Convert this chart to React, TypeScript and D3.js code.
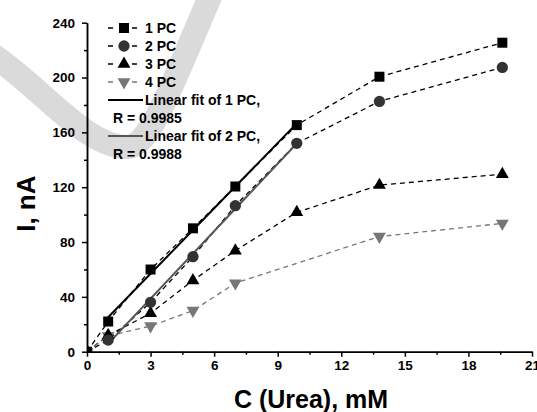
import { useEffect, useRef } from "react";
import * as d3 from "d3";

// concentracion de urea (mM)
const conc = [0, 1, 3, 5, 7, 9.9, 13.8, 19.6];
const pc1 = [0, 22, 60, 90, 120.5, 165.3, 200.6, 225.4];
const pc2 = [0, 8.5, 36, 69.3, 106.5, 152, 182.6, 207.4];
const pc3 = [0, 12, 28, 52, 73.7, 101.7, 121.5, 129.5];
const pc4 = [0, 11.5, 18.7, 30, 50, 0, 84, 93.6];
// 4 PC no tiene punto en 9.9
const pc4Mask = [true, true, true, true, true, false, true, true];

const xTicks = [0, 3, 6, 9, 12, 15, 18, 21];
const yTicks = [0, 40, 80, 120, 160, 200, 240];

const seriesNames = ["1 PC", "2 PC", "3 PC", "4 PC"];
const fitLabels = [
  ["Linear fit of 1 PC,", "R = 0.9985"],
  ["Linear fit of 2 PC,", "R = 0.9988"],
];

const W = 537;
const H = 412;
const FONT = "'Liberation Sans', Arial, sans-serif";

const App = () => {
  const ref = useRef<SVGSVGElement | null>(null);

  useEffect(() => {
    if (!ref.current) return;
    const svg = d3.select(ref.current);
    svg.selectAll("*").remove();

    const x = d3.scaleLinear().domain([0, 21]).range([87, 532]);
    const y = d3.scaleLinear().domain([0, 240]).range([351.7, 22.7]);

    // marca de agua gris del fondo
    svg
      .append("path")
      .attr("d", "M -12,52 C 40,85 85,148 128,147 C 150,146 172,85 212,-8")
      .attr("fill", "none")
      .attr("stroke", "#dadada")
      .attr("stroke-width", 24)
      .attr("stroke-linecap", "butt");

    const series = [
      { vals: pc1, mask: conc.map(() => true), color: "#000", line: "#000", sym: "square" },
      { vals: pc2, mask: conc.map(() => true), color: "#333", line: "#000", sym: "circle" },
      { vals: pc3, mask: conc.map(() => true), color: "#000", line: "#000", sym: "up" },
      { vals: pc4, mask: pc4Mask, color: "#777", line: "#777", sym: "down" },
    ];

    svg
      .append("clipPath")
      .attr("id", "plotclip")
      .append("rect")
      .attr("x", 87)
      .attr("y", 0)
      .attr("width", 450)
      .attr("height", 351.7);

    const plot = svg.append("g").attr("clip-path", "url(#plotclip)");

    const symbolFor = (s: string) =>
      s === "square"
        ? d3.symbol(d3.symbolSquare, 100)
        : s === "circle"
        ? d3.symbol(d3.symbolCircle, 100)
        : d3.symbol(d3.symbolTriangle, 72);

    // lineas discontinuas
    series.forEach((s) => {
      const pts = conc.map((c, i) => [c, s.vals[i]]).filter((_, i) => s.mask[i]);
      plot
        .append("path")
        .attr("d", d3.line().x((d) => x(d[0])).y((d) => y(d[1]))(pts as [number, number][]))
        .attr("fill", "none")
        .attr("stroke", s.line)
        .attr("stroke-width", 1.3)
        .attr("stroke-dasharray", "5,4");
    });

    // ajustes lineales (regresion sobre x = 1..9.9)
    const fit = (vals: number[]) => {
      const pts = conc.map((c, i) => [c, vals[i]]).filter((d) => d[0] >= 1 && d[0] <= 10);
      const mx = d3.mean(pts, (d) => d[0])!;
      const my = d3.mean(pts, (d) => d[1])!;
      const sxy = d3.sum(pts, (d) => (d[0] - mx) * (d[1] - my));
      const sxx = d3.sum(pts, (d) => (d[0] - mx) ** 2);
      const b = sxy / sxx;
      const a = my - b * mx;
      const x0 = d3.min(pts, (d) => d[0])!;
      const x1 = d3.max(pts, (d) => d[0])!;
      return [
        [x0, a + b * x0],
        [x1, a + b * x1],
      ];
    };
    [
      { vals: pc1, color: "#000" },
      { vals: pc2, color: "#555" },
    ].forEach((f) => {
      const p = fit(f.vals);
      plot
        .append("line")
        .attr("x1", x(p[0][0]))
        .attr("y1", y(p[0][1]))
        .attr("x2", x(p[1][0]))
        .attr("y2", y(p[1][1]))
        .attr("stroke", f.color)
        .attr("stroke-width", 2);
    });

    // marcadores (orden inverso para que 1 PC quede encima)
    series
      .slice()
      .reverse()
      .forEach((s) => {
        conc.forEach((c, i) => {
          if (!s.mask[i]) return;
          plot
            .append("path")
            .attr("d", symbolFor(s.sym)()!)
            .attr(
              "transform",
              `translate(${x(c)},${y(s.vals[i])})${s.sym === "down" ? " rotate(180)" : ""}`
            )
            .attr("fill", s.color);
        });
      });

    // ejes
    const axisStyle = (g: any) => {
      g.selectAll("path, line").attr("stroke", "#000").attr("stroke-width", 1.5);
      g.selectAll("text")
        .attr("fill", "#000")
        .style("font-family", FONT)
        .style("font-size", "13.5px")
        .style("font-weight", "bold");
    };

    const xMinor = d3.range(1.5, 21, 3);
    const yMinor = d3.range(20, 240, 40);

    svg
      .append("g")
      .attr("transform", `translate(0,${y(0)})`)
      .call(d3.axisBottom(x).tickValues(xMinor).tickSize(3).tickFormat(() => "").tickSizeOuter(0))
      .call(axisStyle);
    svg
      .append("g")
      .attr("transform", `translate(0,${y(0)})`)
      .call(
        d3
          .axisBottom(x)
          .tickValues(xTicks)
          .tickSize(5)
          .tickSizeOuter(0)
          .tickPadding(4)
          .tickFormat(d3.format("d"))
      )
      .call(axisStyle);

    svg
      .append("g")
      .attr("transform", `translate(${x(0)},0)`)
      .call(d3.axisLeft(y).tickValues(yMinor).tickSize(3).tickFormat(() => "").tickSizeOuter(0))
      .call(axisStyle);
    svg
      .append("g")
      .attr("transform", `translate(${x(0)},0)`)
      .call(
        d3
          .axisLeft(y)
          .tickValues(yTicks)
          .tickSize(5)
          .tickSizeOuter(0)
          .tickPadding(7)
          .tickFormat(d3.format("d"))
      )
      .call(axisStyle);

    // titulos de ejes
    svg
      .append("text")
      .attr("x", 311)
      .attr("y", 408)
      .attr("text-anchor", "middle")
      .style("font-family", FONT)
      .style("font-size", "25px")
      .style("font-weight", "bold")
      .text("C (Urea), mM");

    svg
      .append("text")
      .attr("transform", `translate(35,${y(108)}) rotate(-90)`)
      .attr("text-anchor", "middle")
      .style("font-family", FONT)
      .style("font-size", "26px")
      .style("font-weight", "bold")
      .text("I, nA");

    // leyenda
    const leg = svg.append("g");
    const rowY = (i: number) => 28 + i * 18;
    series.forEach((s, i) => {
      const cy = rowY(i);
      leg
        .append("line")
        .attr("x1", 108)
        .attr("x2", 138)
        .attr("y1", cy)
        .attr("y2", cy)
        .attr("stroke", s.line)
        .attr("stroke-width", 1.3)
        .attr("stroke-dasharray", "5,19");
      leg
        .append("path")
        .attr("d", symbolFor(s.sym)()!)
        .attr("transform", `translate(124,${cy})${s.sym === "down" ? " rotate(180)" : ""}`)
        .attr("fill", s.color);
      leg
        .append("text")
        .attr("x", 145)
        .attr("y", cy + 5)
        .style("font-family", FONT)
        .style("font-size", "14px")
        .style("font-weight", "bold")
        .text(seriesNames[i]);
    });
    fitLabels.forEach((lab, i) => {
      const cy = rowY(4 + i * 2);
      leg
        .append("line")
        .attr("x1", 108)
        .attr("x2", 143)
        .attr("y1", cy)
        .attr("y2", cy)
        .attr("stroke", i === 0 ? "#000" : "#555")
        .attr("stroke-width", 2);
      leg
        .append("text")
        .attr("x", 145)
        .attr("y", cy + 5)
        .style("font-family", FONT)
        .style("font-size", "14px")
        .style("font-weight", "bold")
        .text(lab[0]);
      leg
        .append("text")
        .attr("x", 113)
        .attr("y", cy + 18 + 5)
        .style("font-family", FONT)
        .style("font-size", "14px")
        .style("font-weight", "bold")
        .text(lab[1]);
    });
  }, []);

  return (
    <svg
      ref={ref}
      width={W}
      height={H}
      style={{ position: "absolute", left: 0, top: 0, background: "#fff" }}
    />
  );
};

export default App;
